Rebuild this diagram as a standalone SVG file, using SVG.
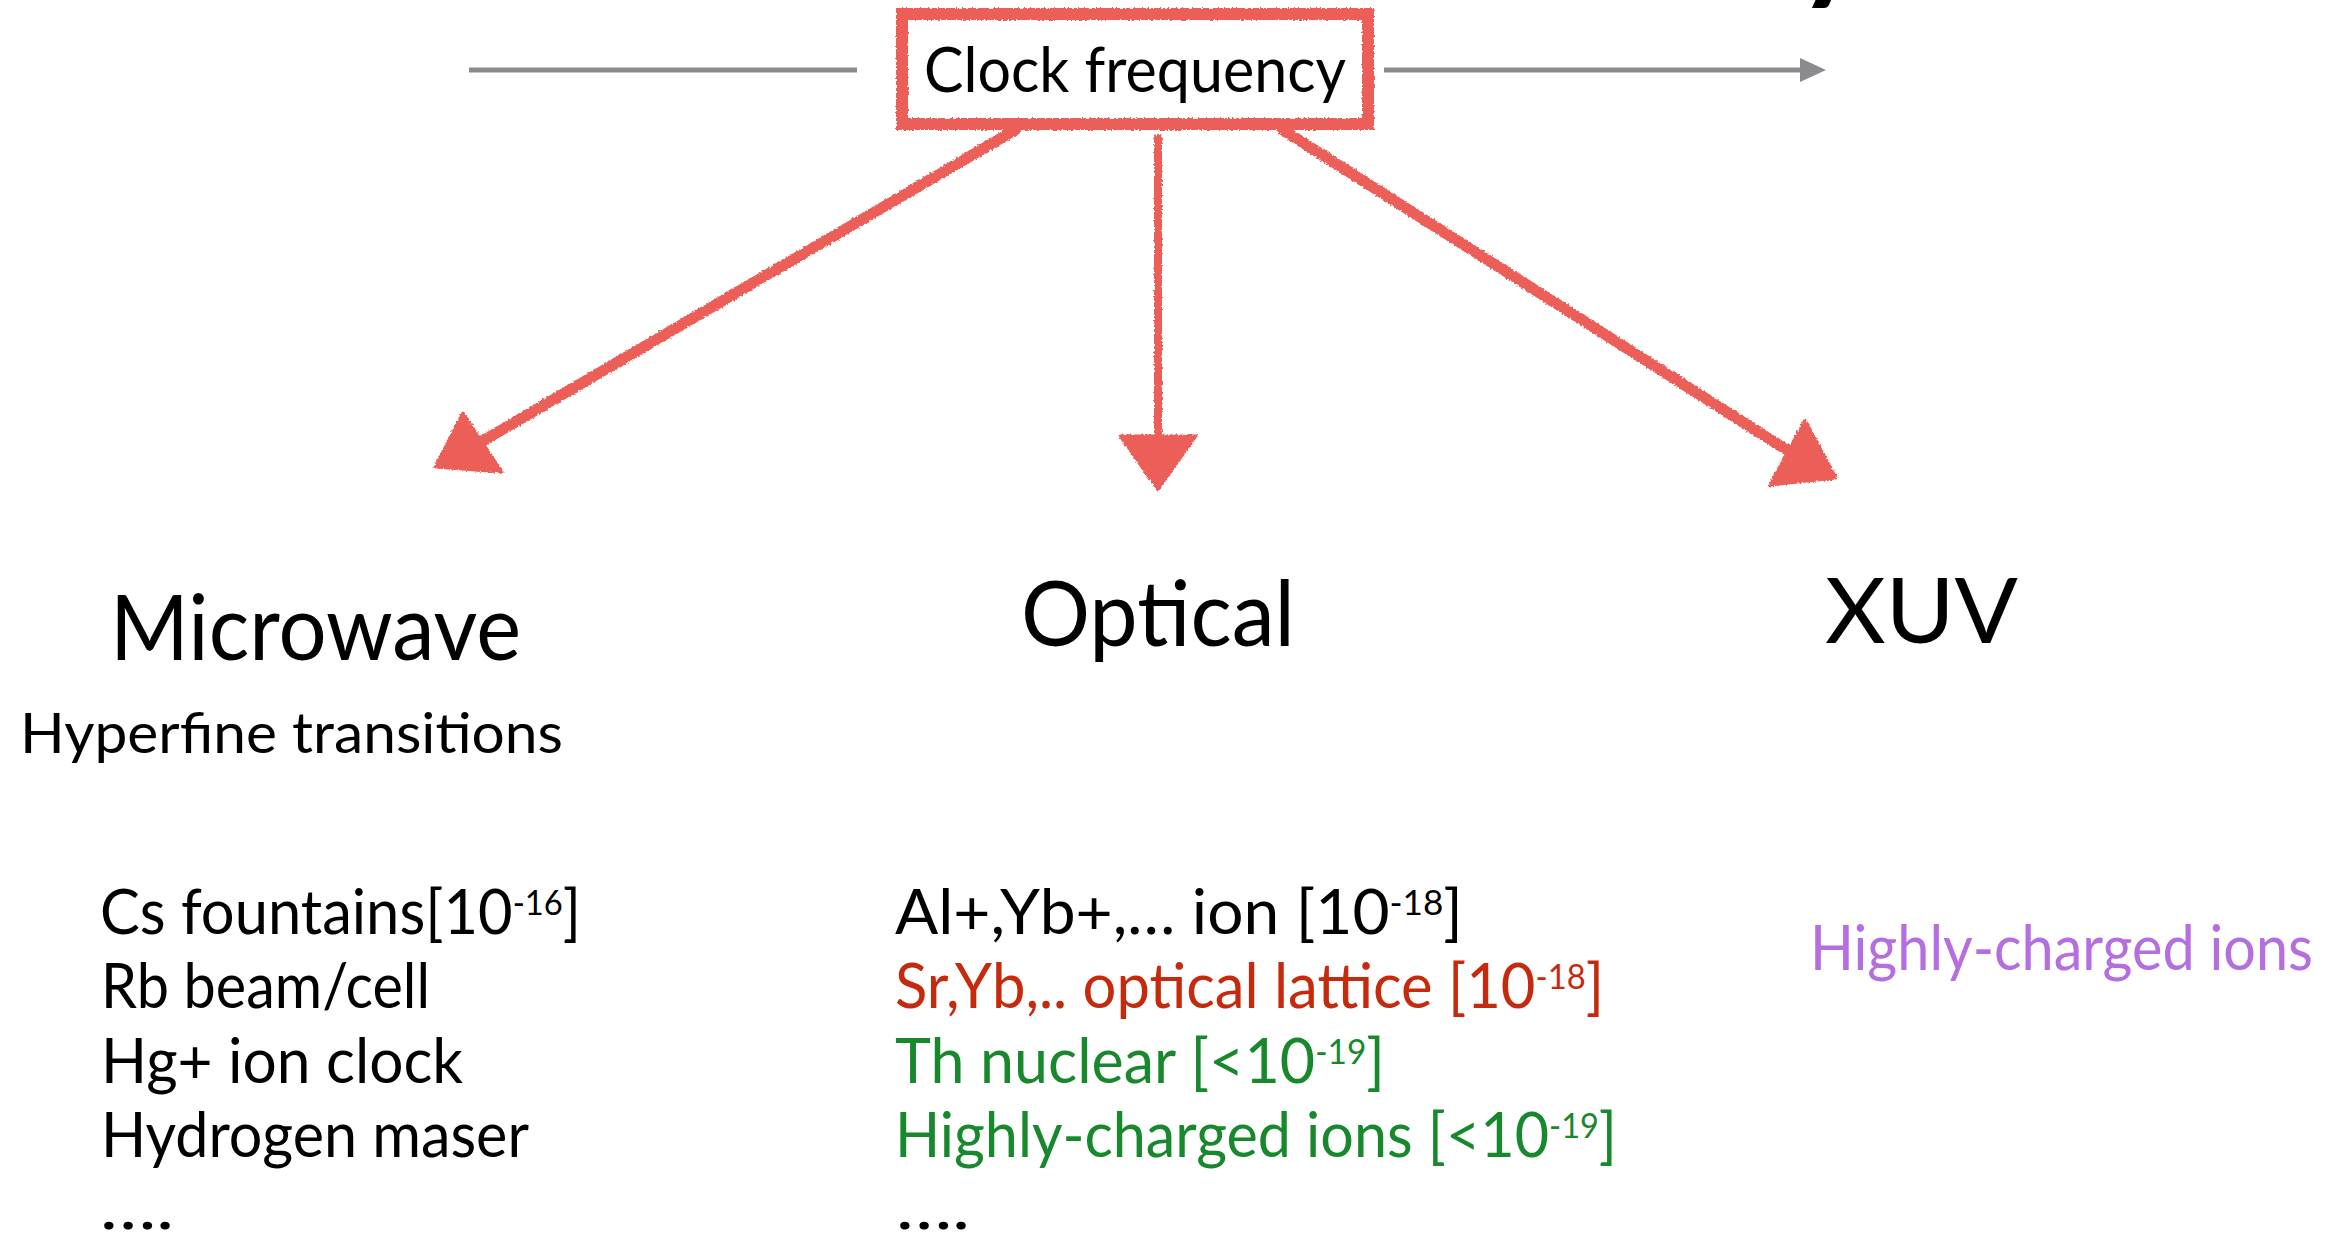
<svg xmlns="http://www.w3.org/2000/svg" width="2348" height="1239" viewBox="0 0 2348 1239">
<defs>
<style>
text{font-family:Lato,"Open Sans","Liberation Sans",sans-serif;fill:#000}
.red{fill:#c62a0d}
.green{fill:#17882c}
.purple{fill:#b46ee0}
.sketch{stroke:#ec5f58;fill:none;stroke-linecap:round;stroke-linejoin:round}
.head{fill:#ec5f58;stroke:#ec5f58;stroke-width:3;stroke-linejoin:round}
.gray{stroke:#8a8b8e;stroke-width:5;fill:none}
</style>
<filter id="rough" filterUnits="userSpaceOnUse" x="0" y="0" width="2348" height="1239">
<feTurbulence type="fractalNoise" baseFrequency="0.5" numOctaves="2" seed="4" result="n"/>
<feDisplacementMap in="SourceGraphic" in2="n" scale="4" xChannelSelector="R" yChannelSelector="G"/>
</filter>
</defs>
<rect width="2348" height="1239" fill="#fff"/>
<text x="1797" y="-14" font-size="130" font-weight="700">y</text>
<g id="connectors">
<line class="gray" x1="469" y1="70" x2="857" y2="70"/>
<line class="gray" x1="1384" y1="70" x2="1802" y2="70"/>
<polygon points="1800,58 1826,70 1800,82" fill="#8a8b8e"/>
<g filter="url(#rough)">
<line class="sketch" stroke-width="11" x1="1015" y1="130" x2="481" y2="442"/>
<polygon class="head" points="435,467 463,413 502,472"/>
<line class="sketch" stroke-width="8" x1="1158" y1="138" x2="1158" y2="440"/>
<polygon class="head" points="1120,436 1196,436 1158,490"/>
<line class="sketch" stroke-width="11" x1="1283" y1="130" x2="1790" y2="452"/>
<polygon class="head" points="1805,420 1770,485 1836,478"/>
</g>
</g>
<g id="clock-frequency">
<rect x="902" y="14" width="466" height="110" fill="#fff" stroke="#ec5f58" stroke-width="12" filter="url(#rough)"/>
<text x="924" y="92" font-size="62" textLength="422" lengthAdjust="spacingAndGlyphs">Clock frequency</text>
</g>
<g id="microwave">
<text x="110" y="660" font-size="91" textLength="411" lengthAdjust="spacingAndGlyphs">Microwave</text>
<text x="20" y="753" font-size="57" textLength="543" lengthAdjust="spacingAndGlyphs">Hyperfine transitions</text>
<text x="100" y="934" font-size="62" textLength="481" lengthAdjust="spacingAndGlyphs">Cs fountains[10<tspan font-size="34" dy="-19">-16</tspan><tspan dy="19">]</tspan></text>
<text x="101" y="1008" font-size="62" textLength="329" lengthAdjust="spacingAndGlyphs">Rb beam/cell</text>
<text x="101" y="1083" font-size="62" textLength="362" lengthAdjust="spacingAndGlyphs">Hg+ ion clock</text>
<text x="101" y="1157" font-size="62" textLength="428" lengthAdjust="spacingAndGlyphs">Hydrogen maser</text>
<text x="100" y="1229" font-size="62" textLength="74" lengthAdjust="spacingAndGlyphs">….</text>
</g>
<g id="optical">
<text x="1021" y="646" font-size="91" textLength="274" lengthAdjust="spacingAndGlyphs">Optical</text>
<text x="895" y="934" font-size="62" textLength="568" lengthAdjust="spacingAndGlyphs">Al+,Yb+,… ion [10<tspan font-size="34" dy="-19">-18</tspan><tspan dy="19">]</tspan></text>
<text class="red" x="895" y="1008" font-size="62" textLength="709" lengthAdjust="spacingAndGlyphs">Sr,Yb,.. optical lattice [10<tspan font-size="34" dy="-19">-18</tspan><tspan dy="19">]</tspan></text>
<text class="green" x="895" y="1083" font-size="62" textLength="490" lengthAdjust="spacingAndGlyphs">Th nuclear [&lt;10<tspan font-size="34" dy="-19">-19</tspan><tspan dy="19">]</tspan></text>
<text class="green" x="895" y="1157" font-size="62" textLength="722" lengthAdjust="spacingAndGlyphs">Highly-charged ions [&lt;10<tspan font-size="34" dy="-19">-19</tspan><tspan dy="19">]</tspan></text>
<text x="896" y="1229" font-size="62" textLength="74" lengthAdjust="spacingAndGlyphs">….</text>
</g>
<g id="xuv">
<text x="1825" y="643" font-size="91" textLength="193" lengthAdjust="spacingAndGlyphs">XUV</text>
<text class="purple" x="1810" y="970" font-size="62" textLength="503" lengthAdjust="spacingAndGlyphs">Highly-charged ions</text>
</g>
</svg>
